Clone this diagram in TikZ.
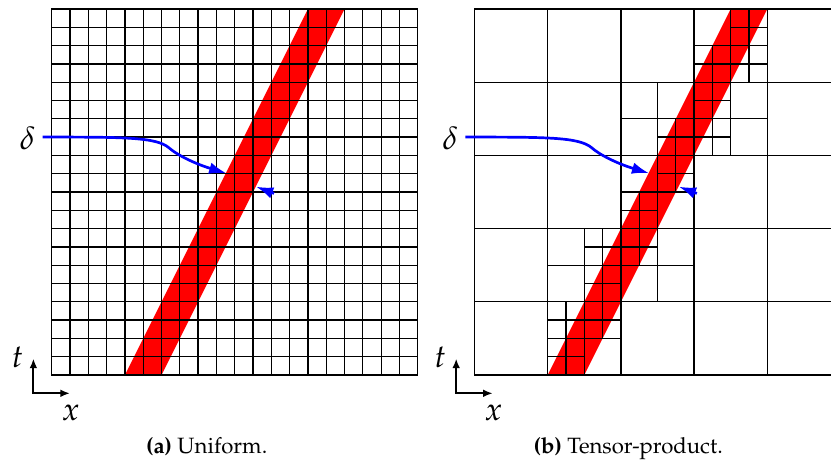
\documentclass[tikz,border=0pt]{standalone}
\usepackage[T1]{fontenc}
\usepackage{mathpazo}
\usetikzlibrary{arrows.meta}
\tikzset{
  gridline/.style={line width=1pt, black, line cap=rect},
  band/.style={fill=red},
  deltaarrow/.style={blue, line width=2.1pt, -{Latex[length=13.5pt,width=9pt]}},
  axisarrow/.style={black, line width=1.6pt, line join=miter, {Latex[length=7.5pt,width=6pt]}-{Latex[length=7.5pt,width=6pt]}},
  mathlabel/.style={inner sep=0pt, font=\fontsize{25}{30}\selectfont},
  captiontext/.style={inner sep=0pt, anchor=base, font=\fontsize{17.2}{20}\selectfont},
}
\begin{document}
\begin{tikzpicture}[x=0.5cm,y=0.5cm]
\useasboundingbox (-2.825,-4.59) rectangle (42.58,20.49);
% ---------------- (a) uniform ----------------
\begin{scope}
  \fill[band] (4,0) -- (6,0) -- (16,20) -- (14,20) -- cycle;
  \foreach \i in {0,...,20} {
    \draw[gridline] (\i,0) -- (\i,20);
    \draw[gridline] (0,\i) -- (20,\i);
  }
  \node[mathlabel] (deltaA) at (-1.32,12.93) {$\delta$};
  \coordinate (sA) at (-0.5,13);
  \coordinate (bendA) at (6.4,12.42);
  \coordinate (hitA) at (9.55,11.02);
  \draw[deltaarrow] (sA) .. controls (4,13) and (5.7,13) .. (bendA)
                          .. controls (6.8,12.05) and (7.8,11.55) .. (hitA);
  \coordinate (rA) at (12.15,9.92);
  \coordinate (edgeA) at (11.16,10.29);
  \draw[deltaarrow] (rA) -- (edgeA);
  \coordinate (oA) at (-1,-1);
  \coordinate (tA) at (-1,0.9);
  \coordinate (xA) at (1,-1);
  \draw[axisarrow] (tA) -- (oA) -- (xA);
  \node[mathlabel] (tlabA) at (-1.87,0.98) {$t$};
  \node[mathlabel] (xlabA) at (1.04,-2.05) {$x$};
  \node[captiontext] (capA) at (8.47,-4.29) {\textbf{(a)} Uniform.};
\end{scope}
% ---------------- (b) tensor-product ----------------
\begin{scope}[shift={(23.1,0)}]
  \fill[band] (4,0) -- (6,0) -- (16,20) -- (14,20) -- cycle;
  \foreach \i in {0,4,...,20} {
    \draw[gridline] (\i,0) -- (\i,20);
    \draw[gridline] (0,\i) -- (20,\i);
  }
  \foreach \u/\a/\b in {14/12/20, 13/12/18, 15/16/20, 10/4/16, 11/10/14, 9/6/10, 6/0/8, 7/2/8, 5/0/4}
    \draw[gridline] (\u,\a) -- (\u,\b);
  \foreach \t/\a/\b in {19/14/16, 18/12/16, 17/12/16, 15/12/14, 14/8/16, 13/10/14, 11/10/12, 10/8/12, 9/8/10, 7/6/10, 6/4/12, 5/6/8, 3/4/8, 2/4/8, 1/4/6}
    \draw[gridline] (\a,\t) -- (\b,\t);
  \node[mathlabel] (deltaB) at (-1.32,12.93) {$\delta$};
  \coordinate (sB) at (-0.5,13);
  \coordinate (bendB) at (6.4,12.42);
  \coordinate (hitB) at (9.55,11.02);
  \draw[deltaarrow] (sB) .. controls (4,13) and (5.7,13) .. (bendB)
                          .. controls (6.8,12.05) and (7.8,11.55) .. (hitB);
  \coordinate (rB) at (12.15,9.92);
  \coordinate (edgeB) at (11.16,10.29);
  \draw[deltaarrow] (rB) -- (edgeB);
  \coordinate (oB) at (-1,-1);
  \coordinate (tB) at (-1,0.9);
  \coordinate (xB) at (1,-1);
  \draw[axisarrow] (tB) -- (oB) -- (xB);
  \node[mathlabel] (tlabB) at (-1.87,0.98) {$t$};
  \node[mathlabel] (xlabB) at (1.04,-2.05) {$x$};
  \node[captiontext] (capB) at (8.4,-4.29) {\textbf{(b)} Tensor-product.};
\end{scope}
\end{tikzpicture}
\end{document}
